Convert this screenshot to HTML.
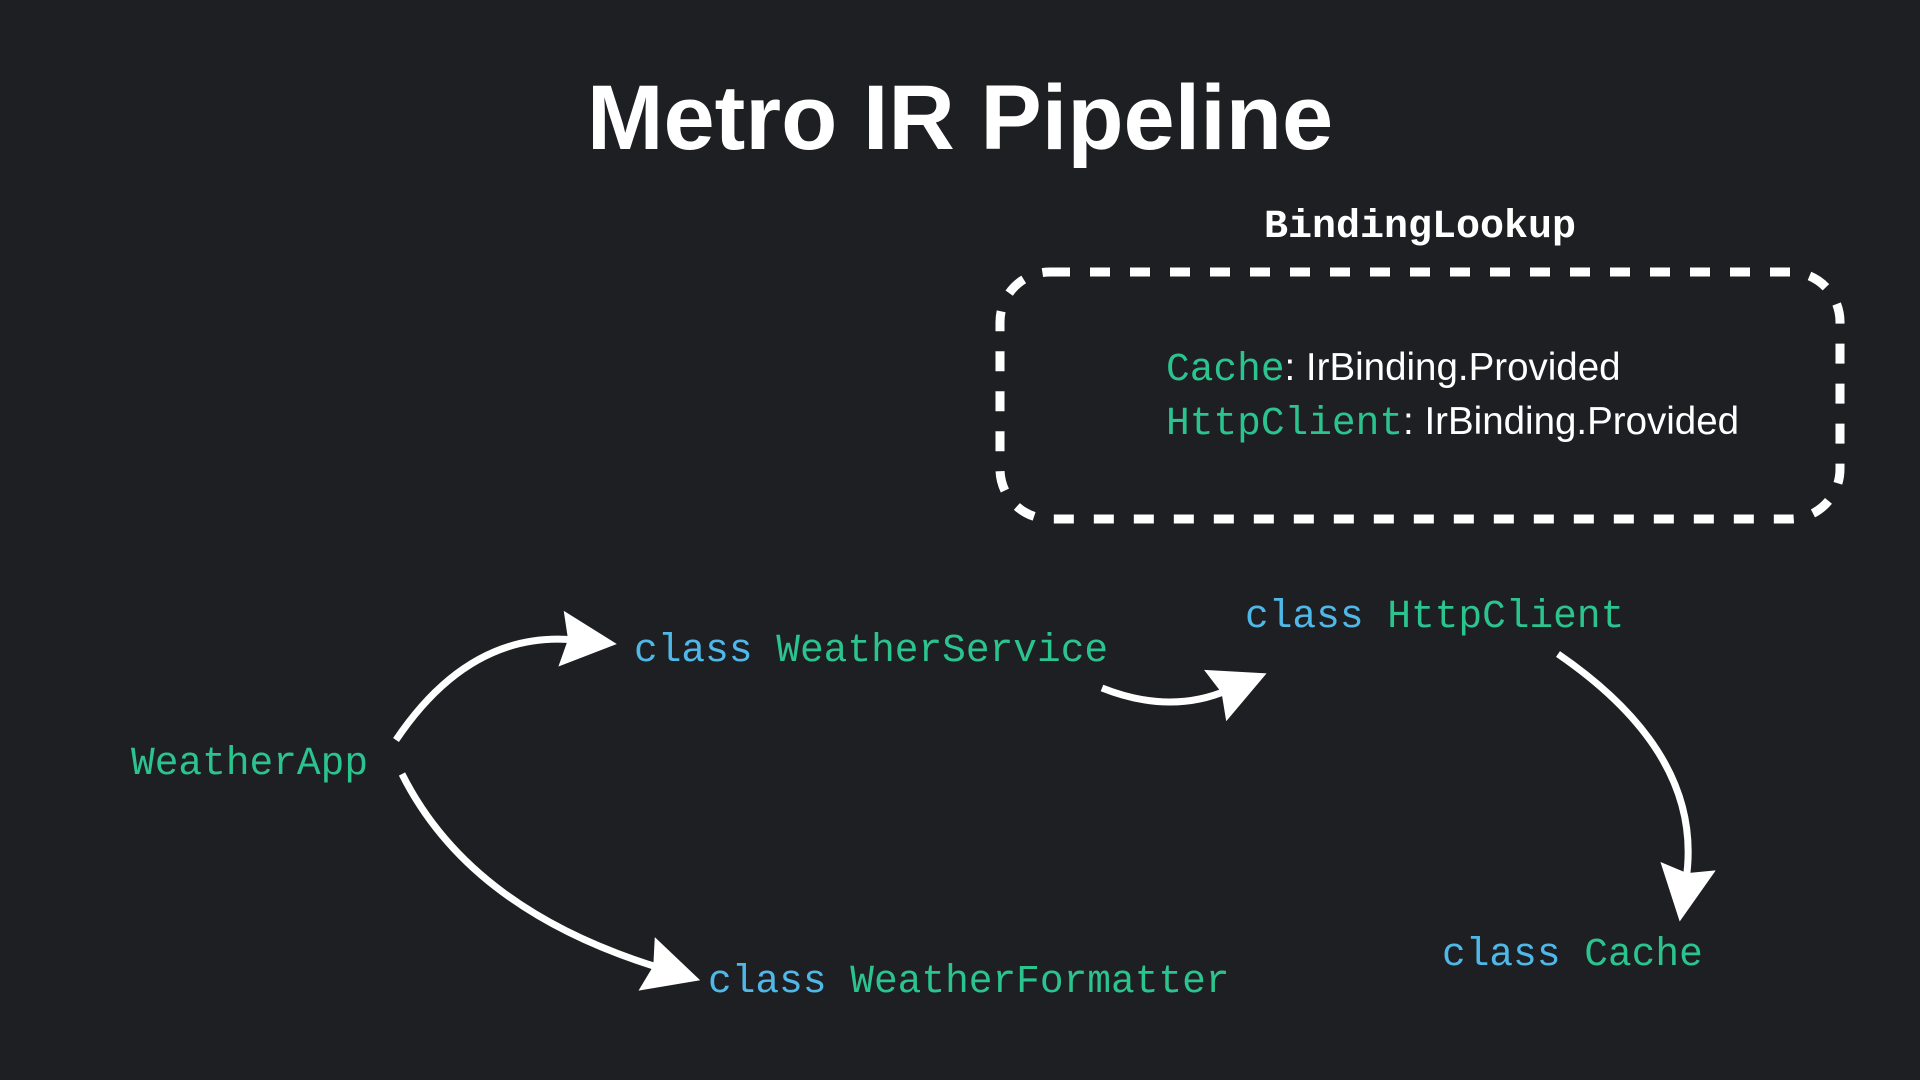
<!DOCTYPE html>
<html><head><meta charset="utf-8"><style>
html,body{margin:0;padding:0;background:#1e1f22;}
body{width:1920px;height:1080px;position:relative;overflow:hidden;font-family:"Liberation Sans",sans-serif;}
.t{position:absolute;white-space:nowrap;line-height:1;}
.m{font-family:"Liberation Mono","DejaVu Sans Mono",monospace;font-size:39.5px;}
.g{color:#2bc48f}.b{color:#4fb8e8}.w{color:#fff}
.p{font-family:'Liberation Sans',sans-serif;font-size:38.5px}
</style></head><body>
<div class="t w" style="left:0;width:1920px;text-align:center;top:72px;font-size:92px;font-weight:bold;letter-spacing:0px">Metro IR Pipeline</div>
<div class="t w m" style="left:1264px;top:208px;font-weight:bold;font-size:40px">BindingLookup</div>
<svg width="1920" height="1080" style="position:absolute;left:0;top:0">
<defs><marker id="a" markerWidth="8" markerHeight="8" refX="2" refY="4" orient="auto" markerUnits="strokeWidth"><path d="M0,0 L8,4 L0,8 L1,4 Z" fill="#fff"/></marker></defs>
<rect x="1000" y="272" width="840" height="247" rx="50" fill="none" stroke="#fff" stroke-width="9" stroke-dasharray="20 20"/>
<g fill="none" stroke="#fff" stroke-width="7">
<path d="M396 740 Q470 630 575 640" marker-end="url(#a)"/>
<path d="M402 774 Q470 910 660 968" marker-end="url(#a)"/>
<path d="M1102 688 Q1170 715 1228 690" marker-end="url(#a)"/>
<path d="M1558 654 Q1705 755 1686 880" marker-end="url(#a)"/>
</g>
</svg>
<div class="t m" style="left:1166px;top:349px"><span class="g">Cache</span><span class="w p">: IrBinding.Provided</span></div>
<div class="t m" style="left:1166px;top:403px"><span class="g">HttpClient</span><span class="w p">: IrBinding.Provided</span></div>
<div class="t m" style="left:634px;top:631px"><span class="b">class</span> <span class="g">WeatherService</span></div>
<div class="t m" style="left:1245px;top:597px"><span class="b">class</span> <span class="g">HttpClient</span></div>
<div class="t m g" style="left:131px;top:744px">WeatherApp</div>
<div class="t m" style="left:708px;top:962px"><span class="b">class</span> <span class="g">WeatherFormatter</span></div>
<div class="t m" style="left:1442px;top:935px"><span class="b">class</span> <span class="g">Cache</span></div>
</body></html>
